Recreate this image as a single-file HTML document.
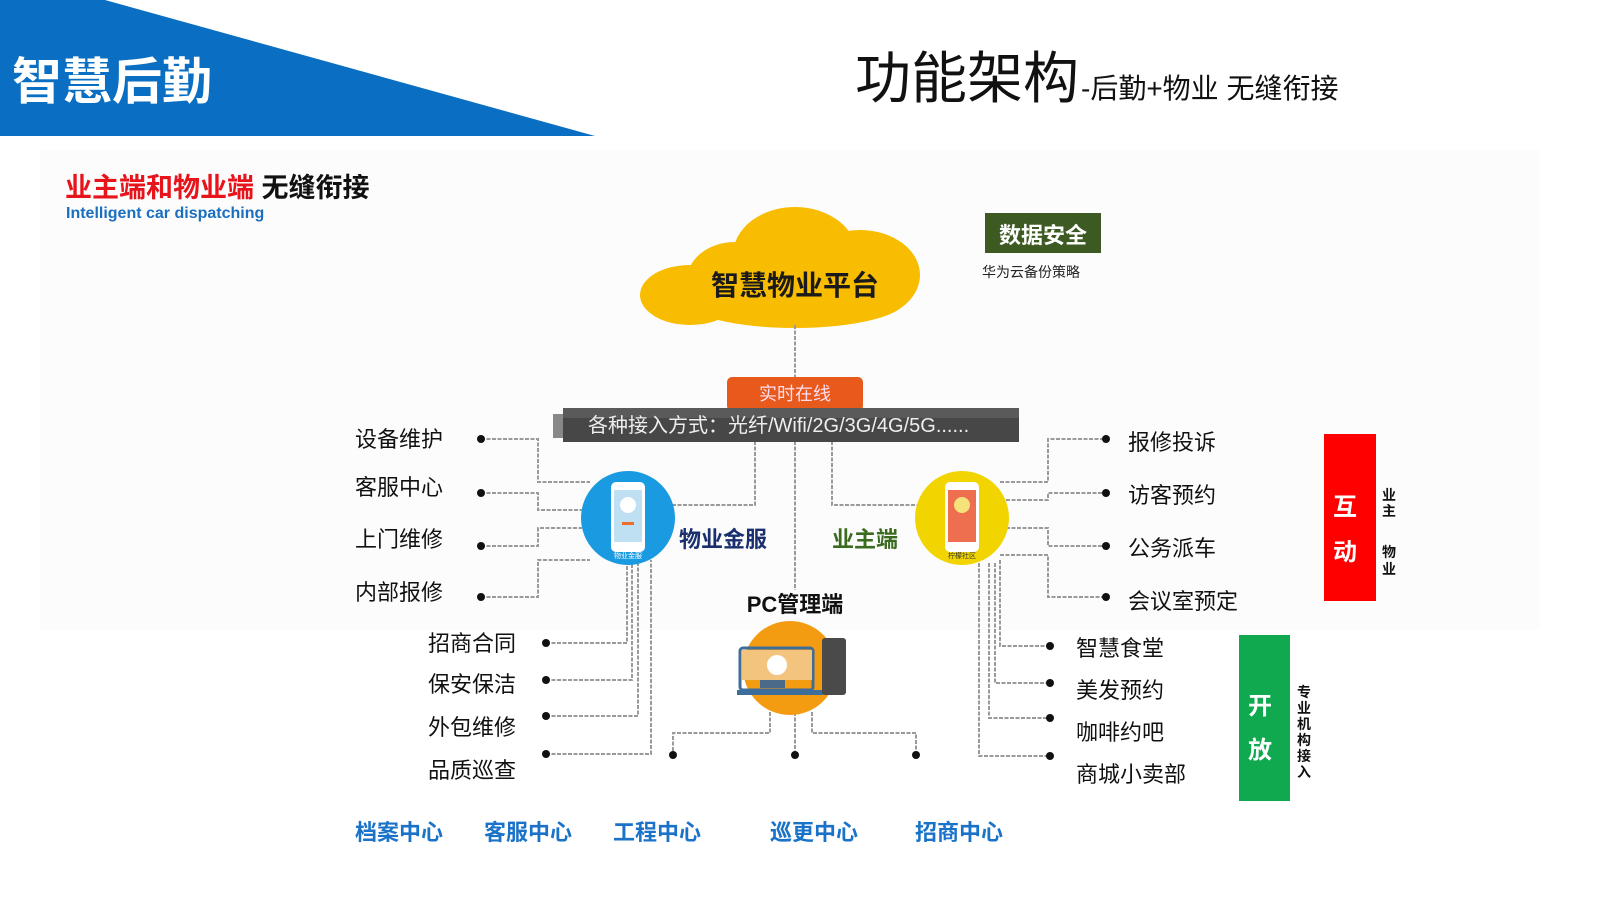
<!DOCTYPE html>
<html><head><meta charset="utf-8"><style>
html,body{margin:0;padding:0;background:#fff;width:1600px;height:900px;overflow:hidden}
svg{display:block}
text{font-family:"Liberation Sans","Noto Sans CJK SC",sans-serif}
</style></head><body>
<svg width="1600" height="900" viewBox="0 0 1600 900">
<rect x="40" y="150" width="1500" height="480" fill="#fcfcfc"/>
<polygon points="0,0 105,0 595,136 0,136" fill="#0a6fc2"/>
<text x="12" y="99" font-size="50" fill="#fff" font-weight="bold">智慧后勤</text>
<text x="855" y="98" font-size="56" fill="#111" font-family="'Noto Serif CJK SC',serif">功能架构<tspan font-size="28" font-family="'Liberation Sans','Noto Sans CJK SC',sans-serif" dx="2">-后勤+物业 无缝衔接</tspan></text>
<text x="65" y="197" font-size="27" font-weight="bold" fill="#e8141b">业主端和物业端 <tspan fill="#111">无缝衔接</tspan></text>
<text x="66" y="218" font-size="16" font-weight="bold" fill="#1a6fc0">Intelligent car dispatching</text>

<g fill="#f8bc00">
<ellipse cx="795" cy="255" rx="62" ry="48"/>
<ellipse cx="735" cy="280" rx="48" ry="38"/>
<ellipse cx="860" cy="275" rx="60" ry="45"/>
<ellipse cx="690" cy="295" rx="50" ry="30"/>
<ellipse cx="795" cy="300" rx="110" ry="28"/>
</g>
<text x="795" y="295" font-size="28" font-weight="bold" text-anchor="middle" fill="#1a1a1a">智慧物业平台</text>
<rect x="985" y="213" width="116" height="40" fill="#3d5a22"/>
<text x="1043" y="243" font-size="22" font-weight="bold" text-anchor="middle" fill="#fff">数据安全</text>
<text x="982" y="277" font-size="14" fill="#222">华为云备份策略</text>

<g fill="none" stroke="#9a9a9a" stroke-width="2" stroke-dasharray="4 1.5">
<line x1="795" y1="325" x2="795" y2="378"/>
<line x1="795" y1="441" x2="795" y2="590"/>
<polyline points="755,441 755,505 672,505"/>
<polyline points="832,441 832,505 918,505"/>
<polyline points="481,439 538,439 538,482 590,482"/>
<polyline points="481,493 538,493 538,510 582,510"/>
<polyline points="481,546 538,546 538,528 582,528"/>
<polyline points="481,597 538,597 538,560 590,560"/>
<polyline points="546,643 627,643 627,560"/>
<polyline points="546,680 632,680 632,563"/>
<polyline points="546,716 638,716 638,563"/>
<polyline points="546,754 651,754 651,560"/>
<polyline points="770,712 770,733 673,733 673,755"/>
<line x1="795" y1="712" x2="795" y2="755"/>
<polyline points="812,712 812,733 916,733 916,755"/>
<polyline points="1000,482 1048,482 1048,439 1106,439"/>
<polyline points="1006,500 1048,500 1048,493 1106,493"/>
<polyline points="1006,528 1048,528 1048,546 1106,546"/>
<polyline points="1000,555 1048,555 1048,597 1106,597"/>
<polyline points="1000,560 1000,646 1050,646"/>
<polyline points="995,563 995,683 1050,683"/>
<polyline points="989,563 989,718 1050,718"/>
<polyline points="979,563 979,756 1050,756"/>
</g>
<g fill="#111">
<circle cx="481" cy="439" r="4"/><circle cx="481" cy="493" r="4"/><circle cx="481" cy="546" r="4"/><circle cx="481" cy="597" r="4"/>
<circle cx="546" cy="643" r="4"/><circle cx="546" cy="680" r="4"/><circle cx="546" cy="716" r="4"/><circle cx="546" cy="754" r="4"/>
<circle cx="673" cy="755" r="4"/><circle cx="795" cy="755" r="4"/><circle cx="916" cy="755" r="4"/>
<circle cx="1106" cy="439" r="4"/><circle cx="1106" cy="493" r="4"/><circle cx="1106" cy="546" r="4"/><circle cx="1106" cy="597" r="4"/>
<circle cx="1050" cy="646" r="4"/><circle cx="1050" cy="683" r="4"/><circle cx="1050" cy="718" r="4"/><circle cx="1050" cy="756" r="4"/>
</g>

<rect x="727" y="377" width="136" height="34" rx="5" fill="#e85a1c"/>
<text x="795" y="400" font-size="18" text-anchor="middle" fill="#fde">实时在线</text>
<rect x="553" y="414" width="14" height="24" fill="#888"/>
<rect x="563" y="408" width="456" height="34" fill="#474747"/>
<rect x="563" y="408" width="456" height="10" fill="#5a5a5a"/>
<text x="588" y="432" font-size="20" fill="#eee">各种接入方式：光纤/Wifi/2G/3G/4G/5G......</text>

<circle cx="628" cy="518" r="47" fill="#1a9ae0"/>
<rect x="611" y="482" width="34" height="70" rx="5" fill="#fff"/>
<rect x="614" y="490" width="28" height="52" fill="#bfe0f2"/>
<circle cx="628" cy="505" r="8" fill="#fff"/><rect x="622" y="522" width="12" height="3" fill="#e8702a"/>
<text x="628" y="558" font-size="7" text-anchor="middle" fill="#fff">物业金服</text>
<circle cx="962" cy="518" r="47" fill="#f2d500"/>
<rect x="945" y="482" width="34" height="70" rx="5" fill="#fff"/>
<rect x="948" y="490" width="28" height="52" fill="#ee6e50"/>
<circle cx="962" cy="505" r="8" fill="#f6e27a"/>
<text x="962" y="558" font-size="7" text-anchor="middle" fill="#333">柠檬社区</text>
<text x="679" y="547" font-size="22" font-weight="bold" fill="#1a2f6e">物业金服</text>
<text x="832" y="547" font-size="22" font-weight="bold" fill="#3b6b1f">业主端</text>

<text x="795" y="612" font-size="22" font-weight="bold" text-anchor="middle" fill="#111">PC管理端</text>
<circle cx="790" cy="668" r="47" fill="#f39c12"/>
<rect x="760" y="678" width="25" height="10" fill="#4b6a8a"/>
<rect x="740" y="648" width="73" height="42" rx="3" fill="none" stroke="#3d6d9a" stroke-width="3"/>
<rect x="742" y="650" width="70" height="30" fill="#f3c47e"/>
<circle cx="777" cy="665" r="10" fill="#fff"/>
<rect x="737" y="690" width="86" height="5" fill="#3d6d9a"/>
<rect x="822" y="638" width="24" height="57" rx="3" fill="#4a4a4a"/>

<g font-size="22" fill="#111">
<text x="355" y="447">设备维护</text><text x="355" y="495">客服中心</text><text x="355" y="547">上门维修</text><text x="355" y="600">内部报修</text>
<text x="428" y="651">招商合同</text><text x="428" y="692">保安保洁</text><text x="428" y="735">外包维修</text><text x="428" y="778">品质巡查</text>
<text x="1128" y="450">报修投诉</text><text x="1128" y="503">访客预约</text><text x="1128" y="556">公务派车</text><text x="1128" y="609">会议室预定</text>
<text x="1076" y="656">智慧食堂</text><text x="1076" y="698">美发预约</text><text x="1076" y="740">咖啡约吧</text><text x="1076" y="782">商城小卖部</text>
</g>

<rect x="1324" y="434" width="52" height="167" fill="#f00"/>
<text x="1345" y="515" font-size="24" font-weight="bold" fill="#fff" text-anchor="middle">互</text>
<text x="1345" y="560" font-size="24" font-weight="bold" fill="#fff" text-anchor="middle">动</text>
<g font-size="14" font-weight="bold" fill="#111" text-anchor="middle">
<text x="1389" y="500">业</text><text x="1389" y="516">主</text>
<text x="1389" y="557">物</text><text x="1389" y="574">业</text>
<text x="1304" y="697">专</text><text x="1304" y="713">业</text><text x="1304" y="729">机</text><text x="1304" y="745">构</text><text x="1304" y="761">接</text><text x="1304" y="777">入</text>
</g>
<rect x="1239" y="635" width="51" height="166" fill="#11a94f"/>
<text x="1260" y="714" font-size="24" font-weight="bold" fill="#fff" text-anchor="middle">开</text>
<text x="1260" y="758" font-size="24" font-weight="bold" fill="#fff" text-anchor="middle">放</text>

<g font-size="22" font-weight="bold" fill="#1a73c8">
<text x="355" y="840">档案中心</text><text x="484" y="840">客服中心</text><text x="613" y="840">工程中心</text><text x="770" y="840">巡更中心</text><text x="915" y="840">招商中心</text>
</g>
</svg>
</body></html>
